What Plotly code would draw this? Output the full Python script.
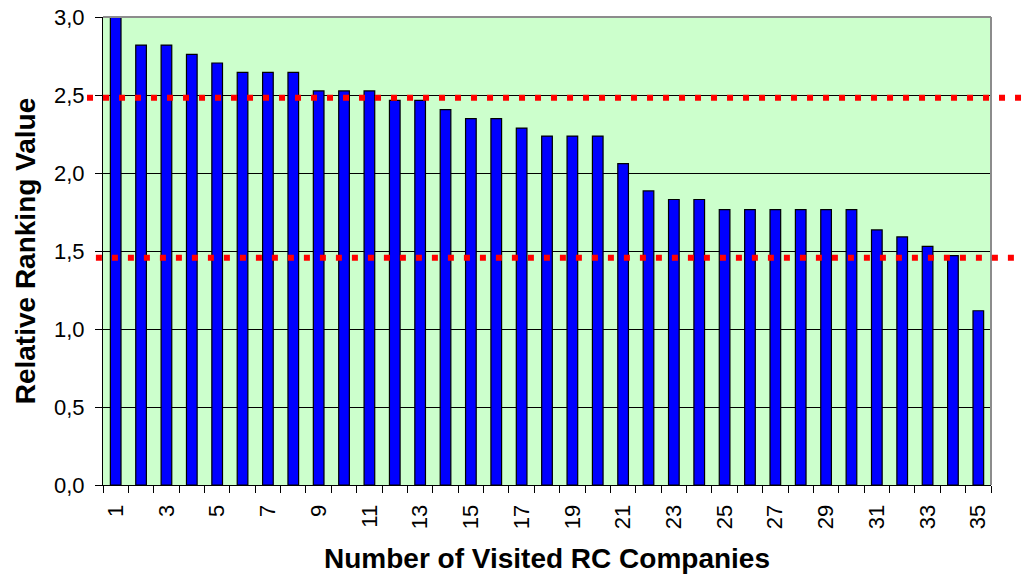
import plotly.graph_objects as go

companies = list(range(1, 36))
ranking = [3.00, 2.82, 2.82, 2.76, 2.705, 2.645, 2.645, 2.645, 2.526, 2.526,
           2.526, 2.466, 2.466, 2.406, 2.348, 2.348, 2.288, 2.237, 2.237, 2.237,
           2.06, 1.885, 1.83, 1.83, 1.765, 1.765, 1.765, 1.765, 1.765, 1.765,
           1.635, 1.59, 1.53, 1.47, 1.117]
thresholds = [2.483, 1.457]
x_tick_vals = list(range(1, 36, 2))
x_tick_text = [str(v) for v in x_tick_vals]
y_tick_vals = [0, 0.5, 1.0, 1.5, 2.0, 2.5, 3.0]

FONT = "Liberation Sans, Arial, sans-serif"

fig = go.Figure()
fig.add_trace(go.Bar(
    x=companies, y=ranking, width=0.42,
    marker=dict(color="#0000FF", line=dict(color="#000000", width=1.2)),
    showlegend=False,
))

# grey top and right border of the plot area
fig.add_shape(type="line", xref="paper", yref="paper", x0=0, x1=1, y0=1, y1=1,
              line=dict(color="#8c8c8c", width=2), layer="above")
fig.add_shape(type="line", xref="paper", yref="paper", x0=1, x1=1, y0=0, y1=1,
              line=dict(color="#8c8c8c", width=2), layer="above")

x_starts = [-0.018, -0.008]
for t, xs in zip(thresholds, x_starts):
    fig.add_shape(type="line", xref="paper", yref="y", x0=xs, x1=1.05, y0=t, y1=t,
                  line=dict(color="#FF0000", width=6, dash="6px,10px"), layer="above")

fig.update_layout(
    width=1022, height=576,
    margin=dict(l=103, r=31, t=17, b=91),
    paper_bgcolor="white", plot_bgcolor="#CCFFCC",
    separators=",.",
    font=dict(family=FONT, color="black"),
)
fig.update_xaxes(
    automargin=False,
    range=[0.5, 35.5], tickmode="array", tickvals=x_tick_vals, ticktext=x_tick_text,
    tickangle=-90, tickfont=dict(size=22), ticks="", ticklabelstandoff=10,
    showline=True, linecolor="black", linewidth=1, showgrid=False, zeroline=False,
    minor=dict(ticks="outside", tick0=0.5, dtick=1, ticklen=7, tickcolor="black", showgrid=False),
    title=dict(text="<b>Number of Visited RC Companies</b>", font=dict(size=28), standoff=20),
)
fig.update_yaxes(
    automargin=False, ticklabeloverflow="allow",
    range=[0, 3.0], tickmode="array", tickvals=y_tick_vals, tickformat=".1f",
    tickfont=dict(size=22), ticks="outside", ticklen=7, tickcolor="black",
    ticklabelstandoff=6,
    showline=True, linecolor="black", linewidth=1,
    showgrid=True, gridcolor="black", gridwidth=1, zeroline=False,
    title=dict(text="<b>Relative Ranking Value</b>", font=dict(size=28), standoff=10),
)

fig.write_html("out.html", config={"displayModeBar": False},
               post_script="document.body.style.margin='0px';")
